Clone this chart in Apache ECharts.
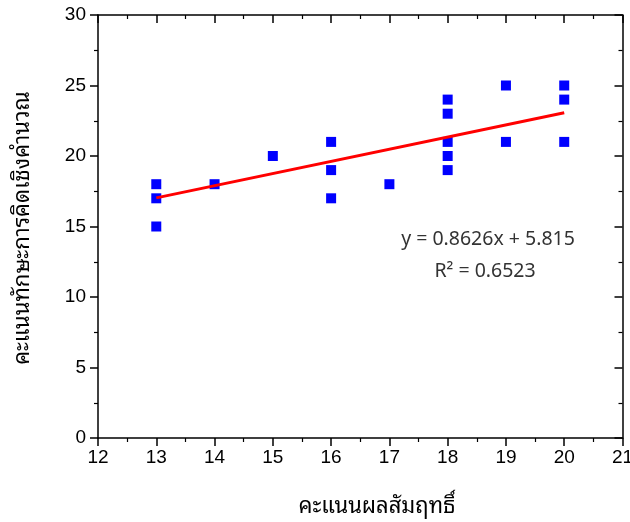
<!DOCTYPE html>
<html><head><meta charset="utf-8">
<script src="https://cdn.jsdelivr.net/npm/echarts@6/dist/echarts.min.js"></script>
<style>html,body{margin:0;padding:0;background:#fff}#c{width:630px;height:522px}</style>
</head><body><div id="c"></div>
<script>
const xValues = [13,13,13,14,15,16,16,16,17,18,18,18,18,18,19,19,20,20,20];
const yValues = [18,17,15,18,20,21,19,17,18,24,23,21,20,19,25,21,25,24,21];
const trendX = [13, 20];
const trendY = [17.03, 23.07];
const xTitle = 'คะแนนผลสัมฤทธิ์';
const yTitle = 'คะแนนทักษะการคิดเชิงคำนวณ';
const eqText = 'y = 0.8626x + 5.815';
const r2Text = 'R² = 0.6523';

const chart = echarts.init(document.getElementById('c'), null, {renderer:'canvas'});
const axisLine = {show:true, onZero:false, lineStyle:{color:'#000', width:1.5}};
const baseX = {type:'value', min:12, max:21, interval:1, splitLine:{show:false}, axisLine};
const baseY = {type:'value', min:0, max:30, interval:5, splitLine:{show:false}, axisLine};
const thaiFont = '"Noto Sans Thai Looped", "Noto Sans Thai", "Noto Sans", sans-serif';
chart.setOption({
  animation:false,
  grid:{left:98, right:7.5, top:15, bottom:84, containLabel:false, outerBoundsMode:'none'},
  xAxis:[
    Object.assign({}, baseX, {position:'bottom',
      axisTick:{show:true, inside:false, length:8, lineStyle:{color:'#000', width:1.5}},
      minorTick:{show:true, splitNumber:2, length:4, lineStyle:{color:'#000', width:1.2}},
      axisLabel:{color:'#000', fontSize:19, fontFamily:'Liberation Sans, Arial', margin:10}}),
    Object.assign({}, baseX, {position:'top',
      axisTick:{show:true, inside:true, length:8, lineStyle:{color:'#000', width:1.5}},
      minorTick:{show:true, splitNumber:2, length:4, lineStyle:{color:'#000', width:1.2}},
      axisLabel:{show:false}})
  ],
  yAxis:[
    Object.assign({}, baseY, {position:'left',
      axisTick:{show:true, inside:false, length:8, lineStyle:{color:'#000', width:1.5}},
      minorTick:{show:true, splitNumber:2, length:4, lineStyle:{color:'#000', width:1.2}},
      axisLabel:{color:'#000', fontSize:19, fontFamily:'Liberation Sans, Arial', margin:12}}),
    Object.assign({}, baseY, {position:'right',
      axisTick:{show:true, inside:true, length:8, lineStyle:{color:'#000', width:1.5}},
      minorTick:{show:true, splitNumber:2, length:4, lineStyle:{color:'#000', width:1.2}},
      axisLabel:{show:false}})
  ],
  series:[
    {type:'scatter', xAxisIndex:0, yAxisIndex:0, symbol:'rect', symbolSize:10,
     itemStyle:{color:'#0000FF', opacity:1}, data:xValues.map((x,i)=>[x,yValues[i]])},
    {type:'line', xAxisIndex:0, yAxisIndex:0, symbol:'none',
     lineStyle:{color:'#FF0000', width:3}, data:trendX.map((x,i)=>[x,trendY[i]]), z:3}
  ],
  graphic:[
    {type:'text', x:488, y:240, style:{text:eqText, fill:'#333', font:'19.5px ' + thaiFont, align:'center', verticalAlign:'middle'}},
    {type:'text', x:485, y:272, style:{text:r2Text, fill:'#333', font:'19.5px ' + thaiFont, align:'center', verticalAlign:'middle'}},
    {type:'text', x:377, y:507, style:{text:xTitle, fill:'#000', font:'22px ' + thaiFont, align:'center', verticalAlign:'middle'}},
    {type:'text', x:23, y:228, rotation:Math.PI/2, style:{text:yTitle, fill:'#000', font:'22px ' + thaiFont, align:'center', verticalAlign:'middle'}}
  ]
});
</script></body></html>
